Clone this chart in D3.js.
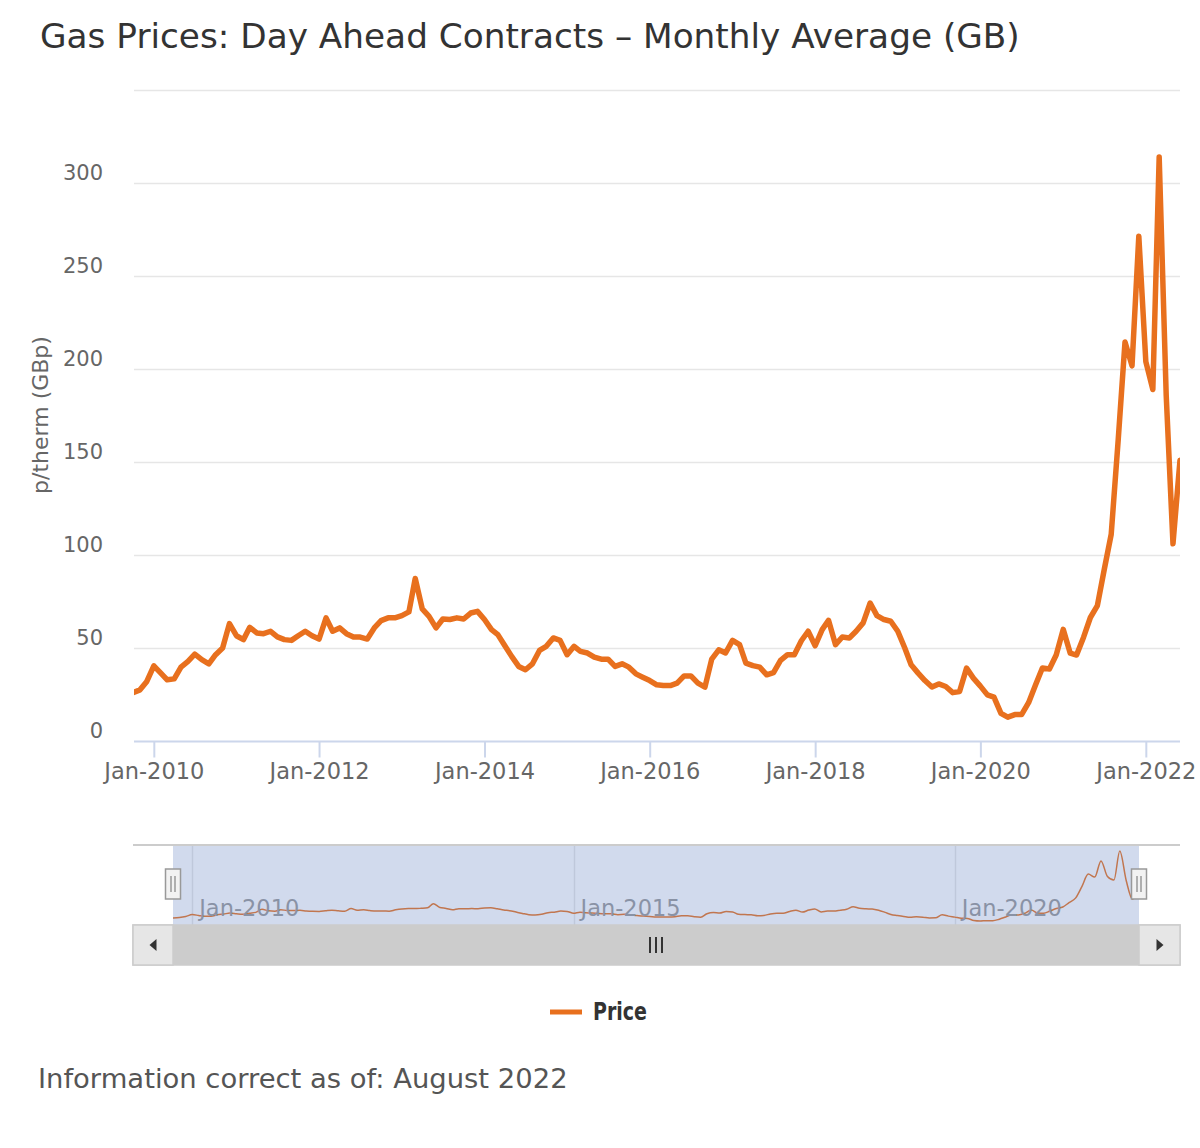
<!DOCTYPE html>
<html>
<head>
<meta charset="utf-8">
<script src="https://cdn.jsdelivr.net/npm/d3@7"></script>
<style>
  body { margin: 0; background: #fff; }
  text { font-family: "DejaVu Sans", Verdana, sans-serif; }
</style>
</head>
<body>
<svg id="chart" width="1200" height="1148"></svg>
<script>
// monthly average day-ahead prices, p/therm, first month is Oct 2009
const firstMonth = "2009-10";
const prices2009 = [26, 27.5, 32];
const prices2010 = [40.4, 36.5, 32.9, 33.4, 39.7, 42.8, 46.7, 43.7, 41.5, 46.4, 50, 63.1];
const prices2011 = [56.6, 54.5, 61.1, 58.1, 57.7, 59, 56, 54.5, 54.1, 56.6, 59, 56.6];
const prices2012 = [54.8, 66.2, 59, 60.8, 57.7, 55.9, 55.9, 54.8, 60.8, 64.7, 66.2, 66.2];
const prices2013 = [67.4, 69.4, 87.4, 71, 67, 60.8, 65.6, 65.3, 66.2, 65.6, 68.8, 69.7];
const prices2014 = [65.3, 59.9, 57.2, 51.2, 45.5, 40.1, 38.3, 41.5, 48.7, 50.9, 55.4, 54.1];
const prices2015 = [46.4, 50.9, 48.2, 47.3, 45.1, 44, 44, 40.1, 41.5, 39.7, 36.1, 34.3];
const prices2016 = [32.5, 30.2, 29.8, 29.8, 31.1, 35, 35, 31.1, 29, 44, 49, 47.3];
const prices2017 = [54.1, 51.8, 41.9, 40.5, 39.7, 35.6, 36.8, 43.3, 46.4, 46.4, 53.9, 59];
const prices2018 = [51.2, 59.9, 64.9, 51.8, 55.9, 55.4, 59, 63.5, 74.2, 67.4, 65.3, 64.4];
const prices2019 = [59, 50, 41, 36.5, 32.5, 29, 30.7, 29.3, 26, 26.6, 39.2, 33.8];
const prices2020 = [29.5, 24.8, 23.6, 14.9, 12.8, 14.2, 14.2, 20.6, 30.2, 39.2, 38.7, 46.2];
const prices2021 = [60, 47.2, 46.2, 55.8, 66.4, 72.8, 92, 111.1, 162, 214.5, 201.7, 271.4];
const prices2022 = [204, 189, 314, 186, 106, 151];

const yTickValues = [0, 50, 100, 150, 200, 250, 300];
const yGridValues = [50, 100, 150, 200, 250, 300, 350];
const seriesName = "Price";

const orange = "#e8701e";
const labelColor = "#666666";

const prices = [].concat(prices2009, prices2010, prices2011, prices2012, prices2013,
  prices2014, prices2015, prices2016, prices2017, prices2018, prices2019,
  prices2020, prices2021, prices2022);
const start = d3.timeParse("%Y-%m")(firstMonth);
const data = prices.map((v, i) => ({ date: d3.timeMonth.offset(start, i), value: v }));

const svg = d3.select("#chart");

function fitWidth(sel, target) {
  let w = sel.node().getComputedTextLength();
  let fs = parseFloat(sel.style("font-size"));
  sel.style("font-size", (fs * target / w) + "px");
}

// title
let title = svg.append("text")
  .attr("x", 40)
  .attr("y", 48)
  .text("Gas Prices: Day Ahead Contracts \u2013 Monthly Average (GB)")
  .style("fill", "#333333")
  .style("font-size", "31px");
fitWidth(title, 980);

// main plot
let plotLeft = 134, plotRight = 1180, plotTop = 90, plotBottom = 741;

let x = d3.scaleTime()
  .domain(d3.extent(data, d => d.date))
  .range([plotLeft - 1, plotRight]);

let y = d3.scaleLinear()
  .domain([0, 350])
  .range([plotBottom, plotTop]);

// grid lines
svg.append("g")
  .selectAll("line")
  .data(yGridValues)
  .enter().append("line")
  .attr("x1", plotLeft)
  .attr("x2", plotRight)
  .attr("y1", d => y(d) + 0.5)
  .attr("y2", d => y(d) + 0.5)
  .style("stroke", "#e6e6e6")
  .style("stroke-width", 1.5);

// y axis labels (sit just above their grid line)
let yAxis = svg.append("g")
  .attr("transform", "translate(" + plotLeft + ",0)")
  .call(d3.axisLeft(y).tickValues(yTickValues).tickSize(0).tickPadding(31));
yAxis.select(".domain").remove();
yAxis.selectAll("text")
  .attr("dy", "-0.18em")
  .style("fill", labelColor)
  .style("font-size", "21px")
  .style("font-family", "DejaVu Sans");

svg.append("text")
  .attr("transform", "translate(48,415) rotate(-90)")
  .attr("text-anchor", "middle")
  .text("p/therm (GBp)")
  .style("fill", labelColor)
  .style("font-size", "22px");

// x axis
let xAxis = svg.append("g")
  .attr("transform", "translate(0," + (plotBottom + 0.5) + ")")
  .call(d3.axisBottom(x)
    .ticks(d3.timeYear.every(2))
    .tickFormat(d3.timeFormat("%b-%Y"))
    .tickSizeOuter(0)
    .tickSize(16)
    .tickPadding(6));
xAxis.select(".domain")
  .attr("d", "M" + plotLeft + ",0H" + plotRight)
  .style("stroke", "#ccd6eb")
  .style("stroke-width", 2);
xAxis.selectAll(".tick line")
  .style("stroke", "#ccd6eb")
  .style("stroke-width", 2);
xAxis.selectAll("text")
  .style("fill", labelColor)
  .style("font-size", "22.5px")
  .style("font-family", "DejaVu Sans");

// price line
svg.append("clipPath")
  .attr("id", "plotClip")
  .append("rect")
  .attr("x", plotLeft)
  .attr("y", plotTop - 40)
  .attr("width", plotRight - plotLeft)
  .attr("height", plotBottom - plotTop + 40);

let line = d3.line()
  .x(d => x(d.date))
  .y(d => y(d.value));

svg.append("path")
  .datum(data)
  .attr("d", line)
  .attr("clip-path", "url(#plotClip)")
  .style("fill", "none")
  .style("stroke", orange)
  .style("stroke-width", 5.5)
  .style("stroke-linejoin", "round")
  .style("stroke-linecap", "round");

// navigator
let navLeft = 173, navRight = 1139, navTop = 845, navBottom = 925;

let navX = d3.scaleTime()
  .domain(d3.extent(data, d => d.date))
  .range([navLeft, navRight]);

let navY = d3.scaleLinear()
  .domain(d3.extent(data, d => d.value))
  .range([921, 851]);

let navTicks = navX.ticks(d3.timeYear.every(5));

let nav = svg.append("g");

nav.selectAll(".navGrid")
  .data(navTicks)
  .enter().append("line")
  .attr("class", "navGrid")
  .attr("x1", d => Math.round(navX(d)) + 0.5)
  .attr("x2", d => Math.round(navX(d)) + 0.5)
  .attr("y1", navTop)
  .attr("y2", navBottom)
  .style("stroke", "#e6e6e6")
  .style("stroke-width", 1.5);

nav.append("path")
  .datum(data)
  .attr("d", d3.line().curve(d3.curveMonotoneX).x(d => navX(d.date)).y(d => navY(d.value)))
  .style("fill", "none")
  .style("stroke", orange)
  .style("stroke-width", 1.5);

nav.selectAll(".navLabel")
  .data(navTicks)
  .enter().append("text")
  .attr("class", "navLabel")
  .attr("x", d => navX(d) + 7)
  .attr("y", 916)
  .text(d3.timeFormat("%b-%Y"))
  .style("fill", "#999999")
  .style("font-size", "22.5px");

// selected range mask
nav.append("rect")
  .attr("x", navLeft)
  .attr("y", navTop)
  .attr("width", navRight - navLeft)
  .attr("height", navBottom - navTop)
  .style("fill", "rgba(102,133,194,0.3)");

nav.append("line")
  .attr("x1", plotLeft - 1)
  .attr("x2", plotRight)
  .attr("y1", navTop)
  .attr("y2", navTop)
  .style("stroke", "#cccccc")
  .style("stroke-width", 2);

// handles
[navLeft, navRight].forEach(function(hx) {
  nav.append("rect")
    .attr("x", hx - 7.5)
    .attr("y", 869)
    .attr("width", 15)
    .attr("height", 30)
    .style("fill", "#f2f2f2")
    .style("stroke", "#999999")
    .style("stroke-width", 1.5);
  nav.append("path")
    .attr("d", "M" + (hx - 2) + ",876V892M" + (hx + 2) + ",876V892")
    .style("stroke", "#999999")
    .style("stroke-width", 1.5);
});

// scrollbar
let sbTop = 925, sbHeight = 40;
nav.append("rect")
  .attr("x", plotLeft - 1)
  .attr("y", sbTop)
  .attr("width", plotRight - plotLeft + 1)
  .attr("height", sbHeight)
  .style("fill", "#f2f2f2")
  .style("stroke", "#cccccc")
  .style("stroke-width", 1.5);
nav.append("rect")
  .attr("x", navLeft)
  .attr("y", sbTop)
  .attr("width", navRight - navLeft)
  .attr("height", sbHeight)
  .style("fill", "#cccccc");
nav.append("rect")
  .attr("x", plotLeft - 1)
  .attr("y", sbTop)
  .attr("width", navLeft - plotLeft + 1)
  .attr("height", sbHeight)
  .style("fill", "#e6e6e6")
  .style("stroke", "#cccccc")
  .style("stroke-width", 1.5);
nav.append("rect")
  .attr("x", navRight)
  .attr("y", sbTop)
  .attr("width", plotRight - navRight)
  .attr("height", sbHeight)
  .style("fill", "#e6e6e6")
  .style("stroke", "#cccccc")
  .style("stroke-width", 1.5);
let midY = sbTop + sbHeight / 2;
let lbx = (plotLeft + navLeft) / 2, rbx = (navRight + plotRight) / 2;
nav.append("path")
  .attr("d", "M" + (lbx + 3) + "," + (midY - 6) + "L" + (lbx - 4) + "," + midY + "L" + (lbx + 3) + "," + (midY + 6) + "Z")
  .style("fill", "#333333");
nav.append("path")
  .attr("d", "M" + (rbx - 3) + "," + (midY - 6) + "L" + (rbx + 4) + "," + midY + "L" + (rbx - 3) + "," + (midY + 6) + "Z")
  .style("fill", "#333333");
let rx = (navLeft + navRight) / 2;
nav.append("path")
  .attr("d", "M" + (rx - 6) + "," + (midY - 8) + "V" + (midY + 8) +
             "M" + rx + "," + (midY - 8) + "V" + (midY + 8) +
             "M" + (rx + 6) + "," + (midY - 8) + "V" + (midY + 8))
  .style("stroke", "#333333")
  .style("stroke-width", 2);

// legend
svg.append("line")
  .attr("x1", 550)
  .attr("x2", 582)
  .attr("y1", 1012)
  .attr("y2", 1012)
  .style("stroke", orange)
  .style("stroke-width", 5);
// the original legend font is a narrow bold face; squeeze it horizontally
let legendText = svg.append("text")
  .text(seriesName)
  .style("fill", "#333333")
  .style("font-family", "'DejaVu Sans', sans-serif")
  .style("font-weight", "bold")
  .style("font-size", "25px");
let legendW = legendText.node().getComputedTextLength();
legendText.attr("transform", "translate(593,1020) scale(" + (54 / legendW) + ",1)");

// footer note
let note = svg.append("text")
  .attr("x", 38)
  .attr("y", 1088)
  .text("Information correct as of: August 2022")
  .style("fill", "#555555")
  .style("font-size", "28px");
fitWidth(note, 530);
</script>
</body>
</html>
